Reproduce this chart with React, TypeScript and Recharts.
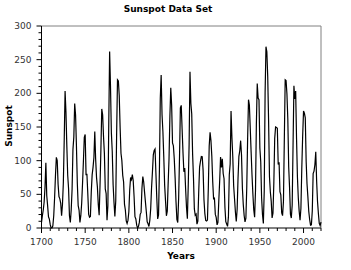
import React from 'react';
import { LineChart, Line, XAxis, YAxis, ReferenceLine } from 'recharts';

// yearly mean sunspot numbers, 1700 - 2020
const startYear = 1700;
const sunspots = [
  8.3, 18.3, 26.7, 38.3, 60.0, 96.7, 48.3, 33.3, 16.7, 13.3,
  5.0, 0.0, 0.0, 3.3, 18.3, 45.0, 78.3, 105.0, 100.0, 65.0,
  46.7, 43.3, 36.7, 18.3, 35.0, 66.7, 130.0, 203.3, 171.7, 121.7,
  78.3, 58.3, 18.3, 8.3, 26.7, 56.7, 116.7, 135.0, 185.0, 168.3,
  121.7, 66.7, 33.3, 26.7, 8.3, 18.3, 36.7, 66.7, 100.0, 134.8,
  139.0, 79.5, 79.7, 51.2, 20.3, 16.0, 17.0, 54.0, 79.3, 90.0,
  104.8, 143.2, 102.0, 75.2, 60.7, 34.8, 19.0, 63.0, 116.3, 176.8,
  168.0, 136.0, 110.8, 58.0, 51.0, 11.7, 33.0, 154.2, 262.0, 209.8,
  141.3, 113.5, 64.2, 38.0, 17.0, 40.2, 138.2, 220.0, 218.2, 196.8,
  149.8, 111.0, 100.0, 78.2, 68.3, 35.5, 26.7, 10.7, 6.8, 11.3,
  24.2, 56.7, 75.0, 71.8, 79.2, 70.3, 46.8, 16.8, 13.5, 4.2,
  0.0, 2.3, 8.3, 20.3, 23.2, 59.0, 76.3, 68.3, 52.9, 38.5,
  24.2, 9.2, 6.3, 2.2, 11.4, 28.2, 59.9, 83.0, 108.5, 115.2,
  117.4, 80.8, 44.3, 13.4, 19.5, 85.8, 192.7, 227.3, 168.7, 143.0,
  105.5, 63.3, 40.3, 18.1, 25.1, 65.8, 102.7, 166.3, 208.3, 182.5,
  126.3, 122.0, 102.7, 74.1, 39.0, 12.7, 8.2, 43.4, 104.4, 178.3,
  182.2, 146.6, 112.1, 83.5, 89.2, 57.8, 30.7, 13.9, 62.8, 123.6,
  232.0, 185.3, 169.2, 110.1, 74.5, 28.3, 18.9, 20.7, 5.7, 10.0,
  53.7, 90.5, 99.0, 106.1, 105.8, 86.3, 42.4, 21.8, 11.2, 10.4,
  11.8, 59.5, 121.7, 142.0, 130.0, 106.6, 69.4, 43.8, 44.4, 20.2,
  15.7, 4.6, 8.5, 40.8, 70.1, 105.5, 90.1, 102.8, 80.9, 73.2,
  30.9, 9.5, 6.0, 2.4, 16.1, 79.0, 95.0, 173.6, 134.6, 105.7,
  62.7, 43.5, 23.7, 9.7, 27.9, 74.0, 106.5, 114.7, 129.7, 108.2,
  59.4, 35.1, 18.6, 9.2, 14.6, 60.2, 132.8, 190.6, 182.6, 148.0,
  113.0, 79.2, 50.8, 27.1, 16.1, 55.3, 154.3, 214.7, 193.0, 190.7,
  118.9, 98.3, 45.0, 20.1, 6.6, 54.2, 200.7, 269.3, 261.7, 225.1,
  159.0, 76.4, 53.4, 39.9, 15.0, 22.0, 66.8, 132.9, 150.0, 149.4,
  148.0, 94.4, 97.6, 54.1, 49.2, 22.5, 18.4, 39.3, 131.0, 220.1,
  218.9, 198.9, 162.4, 91.0, 60.5, 20.6, 14.8, 33.9, 123.0, 211.1,
  191.8, 203.3, 133.0, 76.1, 44.9, 25.1, 11.6, 28.9, 88.3, 136.3,
  173.9, 170.4, 163.6, 99.3, 65.3, 45.8, 24.7, 12.6, 4.2, 4.8,
  24.9, 80.8, 84.5, 94.0, 113.3, 69.8, 39.8, 21.7, 7.0, 3.6,
  8.8,
];

const xTicks = [
  1700, 1710, 1720, 1730, 1740, 1750, 1760, 1770, 1780, 1790,
  1800, 1810, 1820, 1830, 1840, 1850, 1860, 1870, 1880, 1890,
  1900, 1910, 1920, 1930, 1940, 1950, 1960, 1970, 1980, 1990,
  2000, 2010, 2020,
];
const yTicks = [
  0, 10, 20, 30, 40, 50, 60, 70, 80, 90, 100, 110, 120, 130, 140, 150,
  160, 170, 180, 190, 200, 210, 220, 230, 240, 250, 260, 270, 280, 290, 300,
];

const data = sunspots.map((v, i) => ({ year: startYear + i, value: v }));

const font = '"DejaVu Sans", sans-serif';

const XTick = (props: any) => {
  const { x, y, payload } = props;
  const major = payload.value % 50 === 0;
  return (
    <g>
      <line x1={x} x2={x} y1={y} y2={y + (major ? 5 : 3)} stroke="#000" />
      {major && (
        <text x={x} y={y + 17} textAnchor="middle" fontSize={9} fontFamily={font} fill="#333">
          {payload.value}
        </text>
      )}
    </g>
  );
};

const YTick = (props: any) => {
  const { x, y, payload } = props;
  const major = payload.value % 50 === 0;
  return (
    <g>
      <line x1={x} x2={x - (major ? 5 : 3)} y1={y} y2={y} stroke="#000" />
      {major && (
        <text x={x - 10} y={y + 3} textAnchor="end" fontSize={9} fontFamily={font} fill="#333">
          {payload.value}
        </text>
      )}
    </g>
  );
};

export default function App() {
  return (
    <div style={{ position: 'absolute', left: 0, top: 0, width: 351, height: 270 }}>
      <div
        style={{
          position: 'absolute', left: 0, width: 336, top: 4, textAlign: 'center',
          fontFamily: font, fontSize: 9, fontWeight: 'bold', color: '#000',
        }}
      >
        Sunspot Data Set
      </div>
      <div
        style={{
          position: 'absolute', left: 41, width: 280, top: 251, textAlign: 'center',
          fontFamily: font, fontSize: 9, fontWeight: 'bold', color: '#000',
        }}
      >
        Years
      </div>
      <div
        style={{
          position: 'absolute', left: 9, top: 127, width: 0, height: 0,
        }}
      >
        <div
          style={{
            position: 'absolute', left: -50, top: -6, width: 100, textAlign: 'center',
            transform: 'rotate(-90deg)', fontFamily: font, fontSize: 9, fontWeight: 'bold',
            color: '#000',
          }}
        >
          Sunspot
        </div>
      </div>
      <LineChart width={351} height={270} data={data} margin={{ top: 26, right: 30, bottom: 0, left: 0 }}>
        <XAxis
          dataKey="year"
          type="number"
          domain={[1700, 2020]}
          ticks={xTicks}
          interval={0}
          height={42}
          tickSize={0}
          tickMargin={0}
          tickLine={false}
          axisLine={{ stroke: '#000' }}
          tick={<XTick />}
        />
        <YAxis
          type="number"
          domain={[0, 300]}
          ticks={yTicks}
          interval={0}
          width={41.5}
          tickSize={0}
          tickMargin={0}
          tickLine={false}
          axisLine={{ stroke: '#000' }}
          tick={<YTick />}
        />
        <ReferenceLine y={300} stroke="#808080" />
        <ReferenceLine x={2020} stroke="#808080" />
        <Line
          type="linear"
          dataKey="value"
          stroke="#000"
          strokeWidth={1.2}
          dot={false}
          isAnimationActive={false}
        />
      </LineChart>
    </div>
  );
}
